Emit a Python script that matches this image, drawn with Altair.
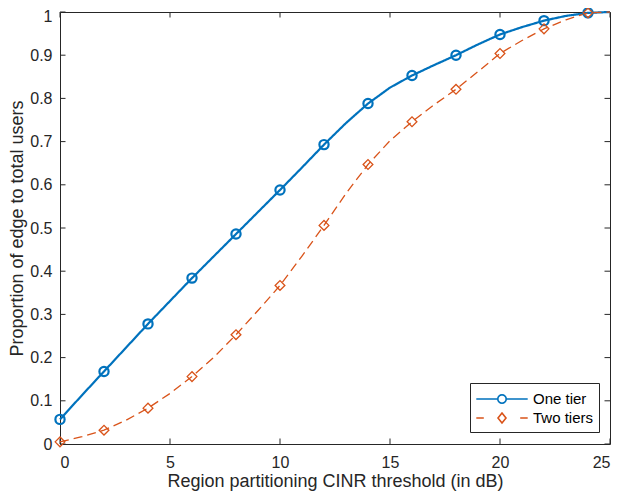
import math
import altair as alt
import pandas as pd

# ---- data ----
x_db = list(range(0, 26))
one_tier = [0.057, 0.113, 0.168, 0.223, 0.278, 0.331, 0.384, 0.435, 0.486, 0.537,
            0.588, 0.640, 0.693, 0.743, 0.788, 0.825, 0.853, 0.877, 0.900, 0.925,
            0.948, 0.965, 0.980, 0.991, 0.998, 1.000]
two_tiers = [0.005, 0.017, 0.032, 0.055, 0.083, 0.117, 0.156, 0.201, 0.253, 0.309,
             0.367, 0.435, 0.506, 0.580, 0.647, 0.702, 0.746, 0.785, 0.821, 0.862,
             0.904, 0.934, 0.961, 0.982, 0.998, 1.000]
series_names = ["One tier", "Two tiers"]
x_ticks = [0, 5, 10, 15, 20, 25]
y_ticks = [0, 0.1, 0.2, 0.3, 0.4, 0.5, 0.6, 0.7, 0.8, 0.9, 1.0]

rows = []
for i, x in enumerate(x_db):
    rows.append({"x": x, "y": one_tier[i], "series": series_names[0]})
    rows.append({"x": x, "y": two_tiers[i], "series": series_names[1]})
df = pd.DataFrame(rows)
df_marks = df[df["x"] % 2 == 0]

W, H = 550, 432
BLUE, ORANGE = "#0072BD", "#D95319"
FONT = "Liberation Sans"
AX = "#262626"

xs = alt.Scale(domain=[0, 25], nice=False, zero=False)
ys = alt.Scale(domain=[0, 1], nice=False)
cscale = alt.Scale(domain=series_names, range=[BLUE, ORANGE])

# legend symbols: line + marker as custom paths (unit = sqrt(symbolSize)/2 px)
def poly(r, n=16):
    pts = [(r * math.cos(2 * math.pi * k / n), r * math.sin(2 * math.pi * k / n)) for k in range(n)]
    return "M" + "L".join(f"{a:.3f},{b:.3f}" for a, b in pts) + "Z"

L = 2.57
path_one = f"M{-L},0L-0.42,0M0.42,0L{L},0" + poly(0.42)
path_two = f"M{-L},0L-1.82,0M1.82,0L{L},0M0,-0.5L0.4,0L0,0.5L-0.4,0Z"

lines = alt.Chart(df).mark_line(strokeCap="butt").encode(
    x=alt.X("x:Q", scale=xs,
            axis=alt.Axis(title="Region partitioning CINR threshold (in dB)", values=x_ticks,
                          grid=False, ticks=False, domain=False, labelPadding=10, titlePadding=2)),
    y=alt.Y("y:Q", scale=ys,
            axis=alt.Axis(title="Proportion of edge to total users", values=y_ticks, format="~g",
                          labelOffset=alt.condition("datum.value == 1", alt.value(4), alt.value(0)),
                          grid=False, ticks=False, domain=False, labelPadding=8, titlePadding=3)),
    color=alt.Color("series:N", scale=cscale, legend=None),
    strokeDash=alt.StrokeDash("series:N", scale=alt.Scale(domain=series_names, range=[[1, 0], [9, 5]]), legend=None),
    strokeWidth=alt.StrokeWidth("series:N", scale=alt.Scale(domain=series_names, range=[2.2, 1.3]), legend=None),
)

points = alt.Chart(df_marks).mark_point(filled=False, opacity=1).encode(
    x=alt.X("x:Q", scale=xs),
    y=alt.Y("y:Q", scale=ys),
    color=alt.Color("series:N", scale=cscale, legend=None),
    shape=alt.Shape("series:N", scale=alt.Scale(domain=series_names, range=["circle", "diamond"]), legend=None),
    size=alt.Size("series:N", scale=alt.Scale(domain=series_names, range=[85, 95]), legend=None),
    strokeWidth=alt.StrokeWidth("series:N", scale=alt.Scale(domain=series_names, range=[2.2, 1.3]), legend=None),
)

leg = alt.Legend(orient="none", legendX=410, legendY=371, title=None,
                 symbolSize=400, symbolStrokeWidth=1.6, labelFont=FONT, labelFontSize=15,
                 labelColor="#000000", strokeColor=AX, fillColor="white", padding=5,
                 rowPadding=0, labelOffset=20, symbolOffset=16)
legend_layer = alt.Chart(df).transform_filter("datum.x < 0").mark_point(filled=False, opacity=1).encode(
    x=alt.X("x:Q", scale=xs),
    y=alt.Y("y:Q", scale=ys),
    color=alt.Color("series:N", scale=cscale, legend=leg),
    shape=alt.Shape("series:N", scale=alt.Scale(domain=series_names, range=[path_one, path_two]), legend=leg),
)

tdf_x = pd.DataFrame({"t": x_ticks})
tdf_y = pd.DataFrame({"t": y_ticks})
TL = 5.5
tick_b = alt.Chart(tdf_x).mark_rule(color=AX, strokeWidth=1).encode(
    x=alt.X("t:Q", scale=xs), y=alt.value(H), y2=alt.value(H - TL))
tick_t = alt.Chart(tdf_x).mark_rule(color=AX, strokeWidth=1).encode(
    x=alt.X("t:Q", scale=xs), y=alt.value(0), y2=alt.value(TL))
tick_l = alt.Chart(tdf_y).mark_rule(color=AX, strokeWidth=1).encode(
    y=alt.Y("t:Q", scale=ys), x=alt.value(0), x2=alt.value(TL))
tick_r = alt.Chart(tdf_y).mark_rule(color=AX, strokeWidth=1).encode(
    y=alt.Y("t:Q", scale=ys), x=alt.value(W), x2=alt.value(W - TL))

chart = alt.layer(tick_b, tick_t, tick_l, tick_r, lines, points, legend_layer).resolve_scale(
    shape="independent", color="independent", size="independent", strokeWidth="independent"
).properties(
    width=W, height=H,
    autosize=alt.AutoSizeParams(type="none"),
    padding={"left": 52, "top": 4, "right": 9, "bottom": 49},
).configure_view(stroke=AX, strokeWidth=1).configure_axis(
    labelFont=FONT, labelFontSize=16, labelColor=AX,
    titleFont=FONT, titleFontSize=18, titleColor=AX, titleFontWeight="normal",
)

chart.save("out.html", embed_options={"renderer": "svg", "actions": False})
